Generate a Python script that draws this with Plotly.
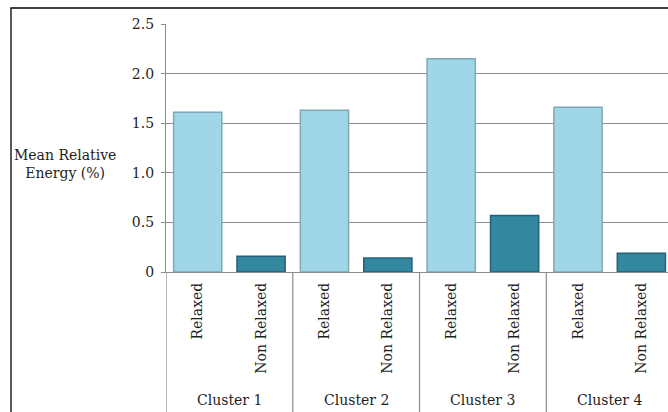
import plotly.graph_objects as go

clusters = ["Cluster 1", "Cluster 2", "Cluster 3", "Cluster 4"]
groups = ["Relaxed", "Non Relaxed"]
relaxed = [1.61, 1.63, 2.15, 1.66]
non_relaxed = [0.16, 0.14, 0.57, 0.19]
y_ticks = [0, 0.5, 1.0, 1.5, 2.0, 2.5]
y_ticktext = ["0", "0.5", "1.0", "1.5", "2.0", "2.5"]

W, H = 668, 412
ML, MR, MT, MB = 166, 0, 24, 140
PW, PH = W - ML - MR, H - MT - MB

def px_x(p):
    return (p - ML) / PW

def px_y(p):
    return (H - MB - p) / PH

n = len(groups)
x_rel = [i * n for i in range(len(clusters))]
x_non = [i * n + 1 for i in range(len(clusters))]

FONT = "DejaVu Serif"
FS = 14
TXT = "#1e1e1e"
fig = go.Figure()
fig.add_trace(go.Bar(x=x_rel, y=relaxed, name="Relaxed", width=0.76,
                     marker=dict(color="#9FD7E9", line=dict(color="#7FA8B4", width=1.5))))
fig.add_trace(go.Bar(x=x_non, y=non_relaxed, name="Non Relaxed", width=0.76,
                     marker=dict(color="#33879E", line=dict(color="#23627A", width=1.5))))

tickvals = list(range(len(clusters) * n))
ticktext = [groups[i % n] for i in tickvals]

shapes = []
for i in range(len(clusters) + 1):
    shapes.append(dict(type="line", xref="x", yref="paper", x0=i * n - 0.5, x1=i * n - 0.5,
                       y0=0, y1=px_y(H + 5), line=dict(color="#8C8C8C", width=1.2)))
shapes.append(dict(type="rect", xref="paper", yref="paper", x0=px_x(11), x1=px_x(W + 20),
                   y0=px_y(H + 20), y1=px_y(8), line=dict(color="#000000", width=1.3),
                   fillcolor="rgba(0,0,0,0)", layer="below"))

annotations = []
for i, c in enumerate(clusters):
    annotations.append(dict(text=c, xref="x", yref="paper", x=i * n + (n - 1) / 2, y=px_y(400),
                            showarrow=False, xanchor="center", yanchor="middle",
                            font=dict(family=FONT, size=FS, color=TXT)))
annotations.append(dict(text="Mean Relative<br>Energy (%)", xref="paper", yref="paper",
                        x=px_x(65), y=px_y(164), showarrow=False, xanchor="center",
                        yanchor="middle", align="center",
                        font=dict(family=FONT, size=FS, color=TXT)))

fig.update_layout(
    width=W, height=H,
    margin=dict(l=ML, r=MR, t=MT, b=MB, pad=0),
    paper_bgcolor="white", plot_bgcolor="white",
    showlegend=False,
    bargap=0.24,
    font=dict(family=FONT, size=FS, color=TXT),
    shapes=shapes,
    annotations=annotations,
    xaxis=dict(range=[-0.5, 7.42], tickmode="array", tickvals=tickvals, ticktext=ticktext,
               tickangle=-90, showgrid=False, zeroline=False, showline=True,
               linecolor="#8C8C8C", linewidth=1.2, ticks="", ticklabelstandoff=4,
               tickfont=dict(family=FONT, size=FS, color=TXT)),
    yaxis=dict(range=[0, 2.5], tickmode="array", tickvals=y_ticks, ticktext=y_ticktext,
               showgrid=True, gridcolor="#8C8C8C", gridwidth=1.2, zeroline=False,
               showline=True, linecolor="#8C8C8C", linewidth=1.2,
               ticks="outside", ticklen=4, tickcolor="#8C8C8C", ticklabelstandoff=4,
               tickfont=dict(family=FONT, size=FS, color=TXT)),
)

fig.write_html("out.html")
